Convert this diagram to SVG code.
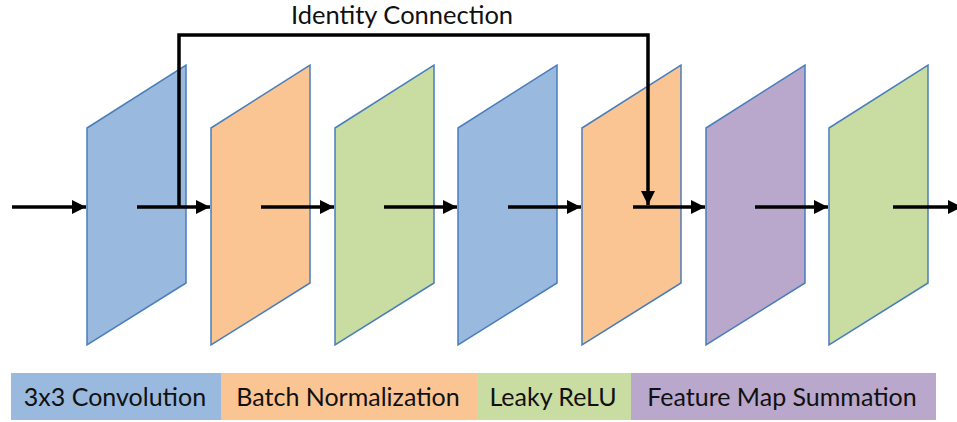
<svg xmlns="http://www.w3.org/2000/svg" width="957" height="422" viewBox="0 0 957 422">
  <defs>
    <style>
      .layer { stroke: #4A7EBB; stroke-width: 1.5; stroke-linejoin: miter; }
      .conv { fill: #9AB9DE; }
      .bn { fill: #FAC593; }
      .relu { fill: #C9DDA3; }
      .sum { fill: #B9A7CC; }
      .flow { stroke: #000; stroke-width: 3.5; fill: none; }
      .label { font-family: "Lato", "Open Sans", "Liberation Sans", sans-serif; font-size: 25px; fill: #111; }
      .title { font-size: 25.5px; }
    </style>
    <marker id="head" markerWidth="4" markerHeight="4" refX="4" refY="2" orient="auto" markerUnits="strokeWidth">
      <path d="M0,0 L4,2 L0,4 Z" fill="#000"/>
    </marker>
    <path id="slab" d="M0,63 L99,0 L99,218 L0,280 Z"/>
  </defs>

  <!-- layer slabs -->
  <g id="conv1"><use href="#slab" x="87" y="65" class="layer conv"/></g>
  <g id="bn1"><use href="#slab" x="211" y="65" class="layer bn"/></g>
  <g id="relu1"><use href="#slab" x="335" y="65" class="layer relu"/></g>
  <g id="conv2"><use href="#slab" x="458" y="65" class="layer conv"/></g>
  <g id="bn2"><use href="#slab" x="582" y="65" class="layer bn"/></g>
  <g id="sum"><use href="#slab" x="706" y="65" class="layer sum"/></g>
  <g id="relu2"><use href="#slab" x="829" y="65" class="layer relu"/></g>

  <!-- connectors -->
  <g id="connectors">
    <line class="flow" x1="12" y1="207" x2="86" y2="207" marker-end="url(#head)"/>
    <line class="flow" x1="137" y1="207" x2="210" y2="207" marker-end="url(#head)"/>
    <line class="flow" x1="261" y1="207" x2="334" y2="207" marker-end="url(#head)"/>
    <line class="flow" x1="384" y1="207" x2="457" y2="207" marker-end="url(#head)"/>
    <line class="flow" x1="508" y1="207" x2="581" y2="207" marker-end="url(#head)"/>
    <line class="flow" x1="633" y1="207" x2="705" y2="207" marker-end="url(#head)"/>
    <line class="flow" x1="755" y1="207" x2="828" y2="207" marker-end="url(#head)"/>
    <line class="flow" x1="893" y1="207" x2="962" y2="207" marker-end="url(#head)"/>
    <path class="flow" d="M179,207 L179,35 L648,35 L648,205" marker-end="url(#head)"/>
  </g>

  <text class="label title" x="402" y="24" text-anchor="middle">Identity Connection</text>

  <!-- legend -->
  <g id="legend">
    <rect x="11" y="373" width="210" height="47" class="conv"/>
    <rect x="221" y="373" width="256" height="47" class="bn"/>
    <rect x="477" y="373" width="154" height="47" class="relu"/>
    <rect x="631" y="373" width="305" height="47" class="sum"/>
    <text class="label" x="115" y="406" text-anchor="middle">3x3 Convolution</text>
    <text class="label" x="348" y="406" text-anchor="middle">Batch Normalization</text>
    <text class="label" x="553" y="406" text-anchor="middle">Leaky ReLU</text>
    <text class="label" x="782" y="406" text-anchor="middle">Feature Map Summation</text>
  </g>
</svg>
